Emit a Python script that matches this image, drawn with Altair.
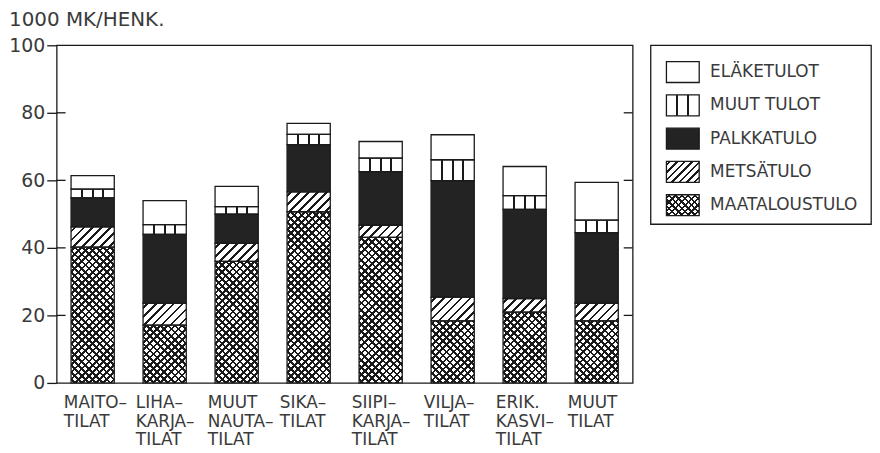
import altair as alt
import pandas as pd

# ---------------- data ----------------
tilat = ["MAITO–|TILAT", "LIHA–|KARJA–|TILAT", "MUUT|NAUTA–|TILAT", "SIKA–|TILAT",
         "SIIPI–|KARJA–|TILAT", "VILJA–|TILAT", "ERIK.|KASVI–|TILAT", "MUUT|TILAT"]
maataloustulo = [40.2, 17.1, 36.0, 50.7, 43.1, 18.4, 21.0, 18.4]
metsatulo = [6.0, 6.5, 5.3, 5.9, 3.6, 7.0, 4.0, 5.2]
palkkatulo = [8.6, 20.4, 8.7, 14.0, 15.9, 34.5, 26.4, 20.9]
muut_tulot = [2.6, 2.9, 2.2, 3.0, 4.0, 6.2, 4.1, 3.7]
elaketulot = [4.0, 7.1, 6.0, 3.3, 4.9, 7.4, 8.6, 11.2]
tulolajit = ["MAATALOUSTULO", "METSÄTULO", "PALKKATULO", "MUUT TULOT", "ELÄKETULOT"]
legend_order = ["ELÄKETULOT", "MUUT TULOT", "PALKKATULO", "METSÄTULO", "MAATALOUSTULO"]
y_ticks = [0, 20, 40, 60, 80, 100]
inner_ticks = [20, 40, 60, 80]

series = [maataloustulo, metsatulo, palkkatulo, muut_tulot, elaketulot]
rows = []
for j, (lab, vals) in enumerate(zip(tulolajit, series)):
    for i, t in enumerate(tilat):
        rows.append({"tila": t, "i": i, "tulolaji": lab, "ord": j, "value": vals[i]})
df = pd.DataFrame(rows)

# ---------------- style ----------------
W, H = 580, 340
PAD_IN, PAD_OUT = 0.4, 0.2
BW = W / (len(tilat) - PAD_IN + 2 * PAD_OUT) * (1 - PAD_IN)
PX = H / 100.0
INK = "#1a1a1a"
TXT = "#3a3a3a"
FONT = "DejaVu Sans"
CLEAR = "rgba(255,255,255,0)"


def stripe_stops(total, period, lw, bg, fg):
    stops = [{"offset": 0, "color": bg}]
    s = period / 2.0
    while s - lw / 2.0 < total:
        a = max(0.0, (s - lw / 2.0) / total)
        b = min(1.0, (s + lw / 2.0) / total)
        stops += [{"offset": a, "color": bg}, {"offset": a, "color": fg},
                  {"offset": b, "color": fg}, {"offset": b, "color": bg}]
        s += period
    stops.append({"offset": 1, "color": bg})
    return stops


def diag(w, h, up, period, lw, bg, fg=INK):
    r = h / w
    a = (1 + r) / (1 + r * r)
    g = {"gradient": "linear", "stops": stripe_stops(w + h, period, lw, bg, fg)}
    if up:   # lines like ////
        g.update({"x1": 0, "y1": 0, "x2": a, "y2": a * r})
    else:    # lines like \\\\
        g.update({"x1": 0, "y1": 1, "x2": a, "y2": 1 - a * r})
    return g


def vlines(n_cells, lw_frac, bg="white", fg=INK):
    stops = [{"offset": 0, "color": bg}]
    for k in range(1, n_cells):
        c = k / n_cells
        stops += [{"offset": c - lw_frac, "color": bg}, {"offset": c - lw_frac, "color": fg},
                  {"offset": c + lw_frac, "color": fg}, {"offset": c + lw_frac, "color": bg}]
    stops.append({"offset": 1, "color": bg})
    return {"gradient": "linear", "x1": 0, "y1": 0, "x2": 1, "y2": 0, "stops": stops}


# ---------------- main chart ----------------
yscale = alt.Scale(domain=[0, 100], nice=False)
y_axis = alt.Axis(title=None, values=y_ticks, labelFontSize=19, labelFont=FONT,
                  labelColor=TXT, tickSize=10, tickColor=INK, tickWidth=1.3,
                  labelPadding=2, domain=False, grid=False)
x_enc = alt.X("tila:N", sort=tilat,
              scale=alt.Scale(paddingInner=PAD_IN, paddingOuter=PAD_OUT),
              axis=alt.Axis(title=None, labelAngle=0, labelExpr="split(datum.label, '|')",
                            labelAlign="left", labelOffset=-29, labelBaseline="top",
                            labelPadding=12, labelFontSize=17, labelLineHeight=18.5,
                            labelFont=FONT, labelColor=TXT, ticks=False, domain=False,
                            grid=False))
y_enc = alt.Y("y0:Q", scale=yscale, axis=y_axis)

base = alt.Chart(df).transform_stack(
    stack="value", groupby=["tila"], as_=["y0", "y1"],
    sort=[alt.SortField("ord", order="ascending")]
).encode(x=x_enc, y=y_enc, y2="y1:Q")

layers = []
for i in range(len(tilat)):
    h = maataloustulo[i] * PX
    f = base.transform_filter((alt.datum.i == i) & (alt.datum.ord == 0))
    layers.append(f.mark_bar(fill=diag(BW, h, True, 7.2, 2.7, "white"), strokeWidth=0))
    layers.append(f.mark_bar(fill=diag(BW, h, False, 7.2, 2.7, CLEAR), strokeWidth=0))
    h2 = metsatulo[i] * PX
    f2 = base.transform_filter((alt.datum.i == i) & (alt.datum.ord == 1))
    layers.append(f2.mark_bar(fill=diag(BW, h2, True, 9.0, 2.8, "white"), strokeWidth=0))

layers.append(base.transform_filter(alt.datum.ord == 2).mark_bar(fill="#232323", strokeWidth=0))
layers.append(base.transform_filter(alt.datum.ord == 3).mark_bar(fill=vlines(4, 1.0 / BW), strokeWidth=0))
layers.append(base.transform_filter(alt.datum.ord == 4).mark_bar(fill="white", strokeWidth=0))
layers.append(base.mark_bar(fill="transparent", stroke=INK, strokeWidth=1.3))

tick_df = pd.DataFrame({"v": inner_ticks})
left_ticks = alt.Chart(tick_df).mark_rule(color=INK, strokeWidth=1.3).encode(
    y=alt.Y("v:Q", scale=yscale, axis=y_axis), x=alt.value(0), x2=alt.value(9))
right_ticks = alt.Chart(tick_df).mark_rule(color=INK, strokeWidth=1.3).encode(
    y=alt.Y("v:Q", scale=yscale, axis=y_axis), x=alt.value(W - 9), x2=alt.value(W))
layers += [left_ticks, right_ticks]

main = alt.layer(*layers).properties(width=W, height=H)

# ---------------- legend panel ----------------
leg_df = pd.DataFrame({"lab": legend_order})
SW, SH = 33, 21
ly = alt.Y("lab:N", sort=legend_order,
           scale=alt.Scale(paddingInner=0.373, paddingOuter=0.373), axis=None)
lbase = alt.Chart(leg_df).encode(y=ly)
sw = dict(x=alt.value(16), x2=alt.value(16 + SW))
leg_fills = {
    "ELÄKETULOT": ["white"],
    "MUUT TULOT": [vlines(3, 1.0 / SW)],
    "PALKKATULO": ["#232323"],
    "METSÄTULO": [diag(SW, SH, True, 7.5, 2.6, "white")],
    "MAATALOUSTULO": [diag(SW, SH, True, 6.5, 2.4, "white"), diag(SW, SH, False, 6.5, 2.4, CLEAR)],
}
leg_layers = []
for lab in legend_order:
    for fill in leg_fills[lab]:
        leg_layers.append(lbase.transform_filter(alt.datum.lab == lab)
                          .mark_rect(fill=fill, strokeWidth=0, yOffset=4).encode(**sw))
leg_layers.append(lbase.mark_rect(fill="transparent", stroke=INK, strokeWidth=1.3, yOffset=4).encode(**sw))
leg_layers.append(lbase.mark_text(align="left", baseline="middle", fontSize=17, font=FONT,
                                  color=TXT, yOffset=4).encode(x=alt.value(60), text="lab:N"))
legend = alt.layer(*leg_layers).properties(width=222, height=180)

chart = alt.hconcat(main, legend, spacing=18, bounds="flush").properties(
    padding=0,
    title=alt.TitleParams("1000 MK/HENK.", anchor="start", frame="bounds", fontSize=20,
                          font=FONT, fontWeight="normal", color=TXT, offset=10, dx=1, dy=4),
).configure(font=FONT).configure_view(stroke=INK, strokeWidth=1.3)

chart.save("out.html", embed_options={"renderer": "svg", "actions": False})
